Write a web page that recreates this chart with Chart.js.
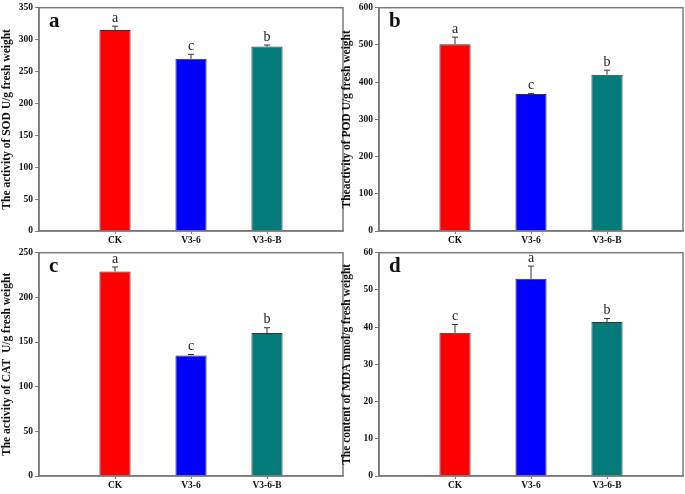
<!DOCTYPE html>
<html>
<head>
<meta charset="utf-8">
<script src="https://cdn.jsdelivr.net/npm/chart.js@4.4.1/dist/chart.umd.min.js"></script>
<style>
  body { margin: 0; background: #fff; }
  #wrap { position: relative; width: 685px; height: 494px; }
  .panel { position: absolute; width: 345px; height: 247px; }
</style>
</head>
<body>
<div id="wrap">
  <div class="panel" style="left:0;top:0"><canvas id="sod"></canvas></div>
  <div class="panel" style="left:340px;top:0"><canvas id="pod"></canvas></div>
  <div class="panel" style="left:0;top:245px"><canvas id="cat"></canvas></div>
  <div class="panel" style="left:340px;top:245px"><canvas id="mda"></canvas></div>
</div>
<script>
const groups = ['CK', 'V3-6', 'V3-6-B'];
const barColors = ['#ff0000', '#0000ff', '#037b7b'];

const sodMean = [315, 270, 289];
const sodErr = [6, 7, 2.5];
const sodLetters = ['a', 'c', 'b'];

const podMean = [502, 368, 420];
const podErr = [19, 1, 12];
const podLetters = ['a', 'c', 'b'];

const catMean = [229, 135, 160];
const catErr = [5, 1, 6];
const catLetters = ['a', 'c', 'b'];

const mdaMean = [38.5, 53, 41.4];
const mdaErr = [2.2, 3.4, 0.9];
const mdaLetters = ['c', 'a', 'b'];

const FONT = "'Liberation Serif', 'Times New Roman', serif";
const FRAME = '#7a7a7a';

// error bars, significance letters, panel letter and frame
const decor = {
    id: 'decor',
    afterDatasetsDraw(chart, args, opts) {
        const { ctx, chartArea: area, scales: { x, y } } = chart;
        ctx.save();
        opts.mean.forEach((m, i) => {
            const cx = x.getPixelForValue(i + 1);
            const yTop = y.getPixelForValue(m + opts.err[i]);
            const yBar = y.getPixelForValue(m);
            ctx.strokeStyle = '#333';
            ctx.lineWidth = 1;
            ctx.beginPath();
            ctx.moveTo(cx, yBar);
            ctx.lineTo(cx, yTop);
            ctx.moveTo(cx - 3, yTop);
            ctx.lineTo(cx + 3, yTop);
            ctx.stroke();

            ctx.fillStyle = '#222';
            ctx.font = '14px ' + FONT;
            ctx.textAlign = 'center';
            ctx.textBaseline = 'bottom';
            ctx.fillText(opts.letters[i], cx, yTop - 1);
        });

        ctx.fillStyle = '#111';
        ctx.font = 'bold 21px ' + FONT;
        ctx.textAlign = 'left';
        ctx.textBaseline = 'top';
        ctx.fillText(opts.tag, area.left + 10, area.top + 3);

        ctx.strokeStyle = FRAME;
        ctx.lineWidth = 1.5;
        ctx.strokeRect(area.left, area.top, area.right - area.left, area.bottom - area.top);
        ctx.restore();
    }
};

function makeChart(id, tag, mean, err, letters, yMax, step, title) {
    const ctx = document.getElementById(id).getContext('2d');
    return new Chart(ctx, {
        type: 'bar',
        data: {
            labels: ['', ...groups, ''],
            datasets: [{
                data: [null, ...mean, null],
                backgroundColor: ['transparent', ...barColors, 'transparent'],
                borderColor: '#333',
                borderWidth: 1,
                categoryPercentage: 0.41,
                barPercentage: 1
            }]
        },
        options: {
            responsive: true,
            maintainAspectRatio: false,
            animation: false,
            layout: { padding: { top: 5, right: 2, left: 0, bottom: 0 } },
            plugins: {
                legend: { display: false },
                tooltip: { enabled: false },
                decor: { tag, mean, err, letters }
            },
            scales: {
                x: {
                    offset: false,
                    grid: {
                        offset: false,
                        drawOnChartArea: false,
                        tickLength: 3,
                        color: c => (c.tick && c.tick.label) ? FRAME : 'rgba(0,0,0,0)'
                    },
                    border: { color: FRAME, width: 1.5 },
                    ticks: {
                        color: '#111',
                        padding: 1,
                        maxRotation: 0,
                        font: { family: FONT, size: 9.5, weight: 'bold' }
                    },
                    afterFit: s => { s.height = 16; }
                },
                y: {
                    min: 0,
                    max: yMax,
                    grid: { drawOnChartArea: false, tickLength: 4, color: FRAME },
                    border: { color: FRAME, width: 1.5 },
                    ticks: {
                        stepSize: step,
                        color: '#111',
                        padding: 2,
                        font: { family: FONT, size: 9.5, weight: 'bold' }
                    },
                    title: {
                        display: true,
                        text: title,
                        color: '#111',
                        padding: { top: 0, bottom: 0 },
                        font: { family: FONT, size: 11.5, weight: 'bold' }
                    },
                    afterFit: s => { s.width = 39; }
                }
            }
        },
        plugins: [decor]
    });
}

makeChart('sod', 'a', sodMean, sodErr, sodLetters, 350, 50, 'The activity of SOD U/g fresh weight');
makeChart('pod', 'b', podMean, podErr, podLetters, 600, 100, 'Theactivity of POD U/g fresh weight');
makeChart('cat', 'c', catMean, catErr, catLetters, 250, 50, 'The activity of CAT  U/g fresh weight');
makeChart('mda', 'd', mdaMean, mdaErr, mdaLetters, 60, 10, 'The content of MDA nmol/g fresh weight');
</script>
</body>
</html>
